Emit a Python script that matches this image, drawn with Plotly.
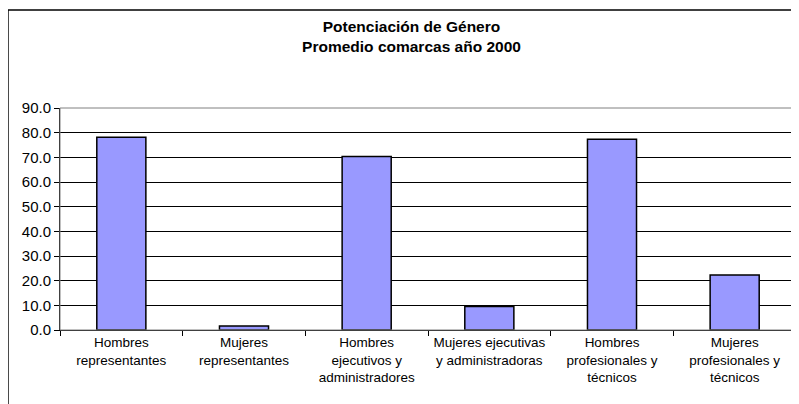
import plotly.graph_objects as go

categories = [
    "Hombres<br>representantes",
    "Mujeres<br>representantes",
    "Hombres<br>ejecutivos y<br>administradores",
    "Mujeres ejecutivas<br>y administradoras",
    "Hombres<br>profesionales y<br>técnicos",
    "Mujeres<br>profesionales y<br>técnicos",
]
values = [78.1, 1.6, 70.3, 9.5, 77.3, 22.3]
y_ticks = [0, 10, 20, 30, 40, 50, 60, 70, 80, 90]

FONT = "Liberation Sans, Arial, sans-serif"

fig = go.Figure(
    go.Bar(
        x=categories,
        y=values,
        marker=dict(color="#9999ff", line=dict(color="#000000", width=1.5)),
        hovertemplate="%{x}<br>%{y:.1f}<extra></extra>",
    )
)

# the page body adds an 8px offset, so the figure is 8px smaller than the window
fig.update_layout(
    width=791,
    height=396,
    paper_bgcolor="white",
    plot_bgcolor="white",
    font=dict(family=FONT, color="#000000", size=13),
    margin=dict(l=52, r=3, t=100, b=74, autoexpand=False),
    bargap=0.6,
    showlegend=False,
    title=dict(
        text="<b>Potenciación de Género<br>Promedio comarcas año 2000</b>",
        x=0.4776,
        xref="paper",
        xanchor="center",
        y=0.94,
        yanchor="top",
        font=dict(size=15.5, family=FONT),
    ),
    shapes=[
        # plot area border (grey)
        dict(type="rect", xref="paper", yref="paper", x0=0, x1=1, y0=0, y1=1,
             line=dict(color="#808080", width=1), layer="above"),
        # chart frame, cropped at right/bottom
        dict(type="line", xref="paper", yref="paper", x0=-0.0707, x1=-0.0707, y0=-0.5, y1=1.4414,
             line=dict(color="#000000", width=1.5)),
        dict(type="line", xref="paper", yref="paper", x0=-0.0707, x1=1.2, y0=1.4414, y1=1.4414,
             line=dict(color="#000000", width=1.5)),
    ],
)

fig.update_xaxes(
    showline=True,
    linecolor="#000000",
    linewidth=1,
    ticks="outside",
    tickson="boundaries",
    ticklen=5,
    tickcolor="#000000",
    tickfont=dict(size=13.5),
    showgrid=False,
    automargin=False,
)
fig.update_yaxes(
    range=[0, 90],
    tickvals=y_ticks,
    tickformat=".1f",
    showline=True,
    linecolor="#000000",
    linewidth=1,
    ticks="outside",
    ticklen=5,
    tickcolor="#000000",
    tickfont=dict(size=15),
    gridcolor="#000000",
    gridwidth=1,
    zeroline=False,
    automargin=False,
)

fig.write_html("out.html")
